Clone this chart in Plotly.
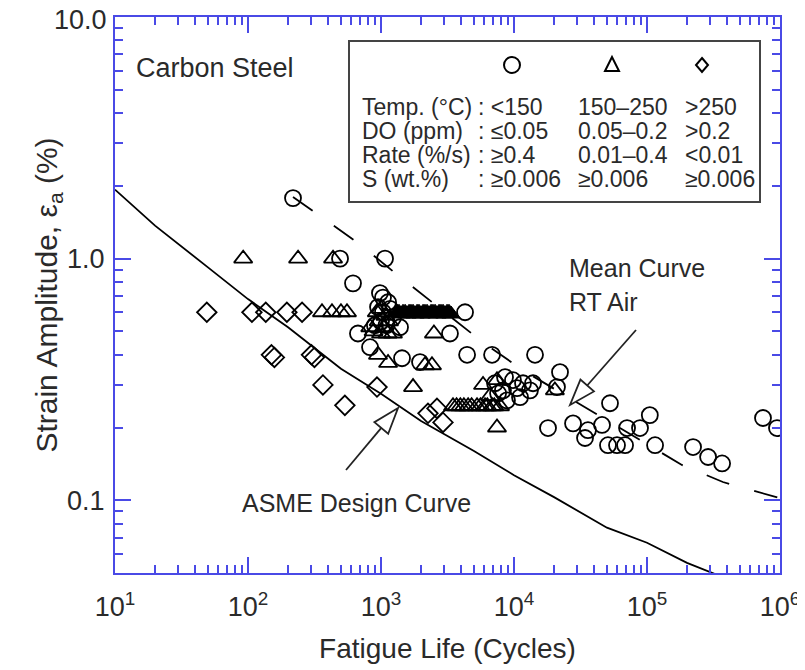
import math
import plotly.graph_objects as go

# ---------------- data ----------------
asme_N = [10, 20, 50, 100, 200, 500, 1000, 2000, 5000, 1e4, 2e4, 5e4, 1e5, 2e5, 5e5, 1e6]
asme_eps = [1.93, 1.37, 0.92, 0.68, 0.52, 0.35, 0.276, 0.213, 0.16, 0.127, 0.103, 0.077,
            0.0667, 0.0551, 0.045, 0.0417]

mean_N = [218, 660, 1390, 2460, 5850, 11700, 183000, 372000, 912000, 1000000]
mean_eps = [1.80, 1.17, 0.84, 0.655, 0.45, 0.345, 0.14, 0.119, 0.103, 0.102]

circ_N = [218, 492, 1072, 616, 982, 1035, 1130, 950, 1170, 1035, 1232, 1000, 900, 1100,
          4284, 671, 1390, 827, 3300, 1439, 1965, 4439, 6840, 14390,
          8560, 7200, 8260, 9820, 10540, 11690, 13900, 8850, 11100, 13190, 7590,
          22180, 21040, 52700, 18020, 27790, 35980, 34200, 45900, 50900, 59500, 68400,
          70800, 88600, 105000, 115000, 222000, 288000, 367000, 745000, 949000]
circ_eps = [1.78, 1.0, 1.0, 0.79, 0.72, 0.69, 0.66, 0.63, 0.62, 0.60, 0.57, 0.55, 0.53, 0.53,
            0.60, 0.49, 0.52, 0.43, 0.49, 0.387, 0.373, 0.40, 0.40, 0.40,
            0.323, 0.305, 0.285, 0.314, 0.291, 0.305, 0.305, 0.259, 0.267, 0.285, 0.277,
            0.339, 0.294, 0.252, 0.199, 0.208, 0.195, 0.181, 0.205, 0.169, 0.169, 0.169,
            0.199, 0.199, 0.225, 0.169, 0.166, 0.151, 0.142, 0.219, 0.199]

tri_N = [92, 238, 436, 360, 428, 500, 555, 930, 1000, 1080, 960, 1050, 1150, 880, 1000,
         1120, 1230, 830, 2500, 949, 1130, 2142, 2417, 1741,
         3478, 3700, 3950, 4200, 4520, 4800, 5272, 5600, 6055, 6300, 6840, 7100, 7850,
         5850, 6605, 7450, 7450, 20300]
tri_eps = [1.0, 1.0, 1.0, 0.6, 0.6, 0.6, 0.6, 0.6, 0.62, 0.58, 0.55, 0.52, 0.55, 0.50, 0.49,
           0.49, 0.49, 0.52, 0.49, 0.40, 0.37, 0.362, 0.362, 0.294,
           0.245, 0.245, 0.245, 0.245, 0.245, 0.245, 0.245, 0.245, 0.245, 0.245, 0.245, 0.245, 0.245,
           0.30, 0.27, 0.314, 0.20, 0.285]

# dense overlapping tests at 0.6 % (merge into a solid black band)
band_N = [1320, 1365, 1416, 1464, 1518, 1569, 1626, 1680, 1742, 1801, 1868, 1930, 2001, 2072,
          2141, 2220, 2296, 2380, 2459, 2550, 2636, 2733, 2825, 2928, 3027, 3138, 3244, 3362]
band_eps = [0.60, 0.60, 0.59, 0.60, 0.60, 0.59, 0.60, 0.60, 0.60, 0.59, 0.60, 0.60, 0.59, 0.60,
            0.60, 0.60, 0.59, 0.60, 0.60, 0.60, 0.59, 0.60, 0.60, 0.60, 0.59, 0.60, 0.60, 0.59]

dia_N = [49, 107, 136, 196, 255, 150, 158, 300, 316, 366, 535, 933, 2255, 2635, 2926]
dia_eps = [0.6, 0.6, 0.6, 0.6, 0.6, 0.40, 0.39, 0.40, 0.39, 0.30, 0.247, 0.294, 0.229, 0.24, 0.21]

x_tickvals = [1e1, 1e2, 1e3, 1e4, 1e5, 1e6]
x_ticktext = ["10<sup>1</sup>", "10<sup>2</sup>", "10<sup>3</sup>", "10<sup>4</sup>",
              "10<sup>5</sup>", "10<sup>6</sup>"]
y_tickvals = [0.1, 1.0, 10.0]
y_ticktext = ["0.1", "1.0", "10.0"]

legend_rows = [
    ("Temp. (°C)", ": <150", "150–250", ">250"),
    ("DO (ppm)", ": ≤0.05", "0.05–0.2", ">0.2"),
    ("Rate (%/s)", ": ≥0.4", "0.01–0.4", "<0.01"),
    ("S (wt.%)", ": ≥0.006", "≥0.006", "≥0.006"),
]

# ---------------- styling / layout ----------------
# screen positions of the plot area (page body has an 8 px margin)
OFF = 8
W, H = 805, 670
L, R, T, B = 115, 780, 17, 573
BLUE = "#4a4ae6"
TXT = "#2a2a2a"
FONT = "Liberation Sans, Arial, Helvetica, sans-serif"


def px(x):
    return (x - L) / (R - L)


def py(y):
    return (B - y) / (B - T)


fig = go.Figure()

fig.add_trace(go.Scatter(x=asme_N, y=asme_eps, mode="lines",
                         line=dict(color="black", width=1.8), hoverinfo="skip"))
fig.add_trace(go.Scatter(x=mean_N, y=mean_eps, mode="lines",
                         line=dict(color="black", width=1.8, dash="24px,26px"), hoverinfo="skip"))

mk_line = dict(color="black", width=1.8)
fig.add_trace(go.Scatter(x=band_N, y=band_eps, mode="markers",
                         marker=dict(symbol="triangle-up", size=16, color="black",
                                     line=dict(color="black", width=1))))
fig.add_trace(go.Scatter(x=tri_N, y=tri_eps, mode="markers",
                         marker=dict(symbol="triangle-up-open", size=16, color="black", line=mk_line)))
fig.add_trace(go.Scatter(x=dia_N, y=dia_eps, mode="markers",
                         marker=dict(symbol="diamond-open", size=15, color="black", line=mk_line)))
fig.add_trace(go.Scatter(x=circ_N, y=circ_eps, mode="markers",
                         marker=dict(symbol="circle-open", size=16, color="black", line=mk_line)))

shapes = []
# legend box
shapes.append(dict(type="rect", xref="paper", yref="paper",
                   x0=px(349), x1=px(760), y0=py(202), y1=py(41),
                   line=dict(color="#444444", width=2), fillcolor="white", layer="above"))
# legend symbols
shapes.append(dict(type="circle", xref="paper", yref="paper",
                   x0=px(504), x1=px(520), y0=py(73), y1=py(57),
                   line=dict(color="black", width=2), layer="above"))
tx, ty = 612, 65
shapes.append(dict(type="path", xref="paper", yref="paper",
                   path=f"M {px(tx)},{py(ty-8)} L {px(tx-7)},{py(ty+6)} L {px(tx+7)},{py(ty+6)} Z",
                   line=dict(color="black", width=2), layer="above"))
dx, dy = 702, 65
shapes.append(dict(type="path", xref="paper", yref="paper",
                   path=f"M {px(dx)},{py(dy-7)} L {px(dx+6)},{py(dy)} L {px(dx)},{py(dy+7)} L {px(dx-6)},{py(dy)} Z",
                   line=dict(color="black", width=2), layer="above"))


def hollow_arrow(tail, tip, head_len=26, half_w=9):
    (x0, y0), (x1, y1) = tail, tip
    d = math.hypot(x1 - x0, y1 - y0)
    ux, uy = (x1 - x0) / d, (y1 - y0) / d
    bx, by = x1 - head_len * ux, y1 - head_len * uy
    pxv, pyv = -uy, ux
    c1 = (bx + half_w * pxv, by + half_w * pyv)
    c2 = (bx - half_w * pxv, by - half_w * pyv)
    return [dict(type="line", xref="paper", yref="paper",
                 x0=px(x0), y0=py(y0), x1=px(bx), y1=py(by),
                 line=dict(color="#222222", width=1.8), layer="above"),
            dict(type="path", xref="paper", yref="paper",
                 path=f"M {px(c1[0])},{py(c1[1])} L {px(x1)},{py(y1)} L {px(c2[0])},{py(c2[1])} Z",
                 line=dict(color="#222222", width=1.8), fillcolor="white", layer="above")]


shapes += hollow_arrow((636, 330), (570, 405))
shapes += hollow_arrow((346, 470), (398, 408))

annotations = []


def txt(x, y, s, size, anchor="left"):
    annotations.append(dict(x=px(x), y=py(y), xref="paper", yref="paper", text=s,
                            showarrow=False, xanchor=anchor, yanchor="middle",
                            font=dict(family=FONT, size=size, color=TXT)))


txt(134, 68, "Carbon Steel", 27)
row_y = [107, 131, 155, 179]
for (lab, c1, c2, c3), yy in zip(legend_rows, row_y):
    txt(360, yy, lab, 23)
    txt(476, yy, c1, 23)
    txt(576, yy, c2, 23)
    txt(683, yy, c3, 23)
txt(567, 268, "Mean Curve", 25)
txt(567, 302, "RT Air", 25)
txt(356, 503, "ASME Design Curve", 25, anchor="center")
# top y tick label drawn slightly inside the page so it is not clipped
txt(109, 20, y_ticktext[-1], 27, anchor="right")
y_ticktext_axis = y_ticktext[:-1] + [""]

minor_x = [m * 10 ** k for k in range(1, 6) for m in range(2, 10)]
minor_y = [m * 10 ** k for k in (-2, -1, 0) for m in range(2, 10)]

axis_common = dict(type="log", showgrid=False, zeroline=False, showline=True,
                   linecolor=BLUE, linewidth=2, mirror="allticks",
                   ticks="inside", ticklen=16, tickwidth=2, tickcolor=BLUE,
                   ticklabeloverflow="allow",
                   tickfont=dict(family=FONT, size=27, color=TXT))

fig.update_layout(
    width=W, height=H,
    margin=dict(l=L - OFF, r=W - (R - OFF), t=T - OFF, b=H - (B - OFF), autoexpand=False),
    paper_bgcolor="white", plot_bgcolor="white",
    showlegend=False,
    font=dict(family=FONT, color=TXT),
    shapes=shapes, annotations=annotations,
    xaxis=dict(**axis_common, range=[1, 6], tickmode="array",
               tickvals=x_tickvals, ticktext=x_ticktext, ticklabelstandoff=9,
               minor=dict(tickmode="array", tickvals=minor_x, ticks="inside",
                          ticklen=8, tickwidth=1.5, tickcolor=BLUE, showgrid=False),
               title=dict(text="Fatigue Life (Cycles)", standoff=17,
                          font=dict(family=FONT, size=28, color=TXT))),
    yaxis=dict(**axis_common, range=[math.log10(0.05), 1], tickmode="array",
               tickvals=y_tickvals, ticktext=y_ticktext_axis, ticklabelstandoff=3,
               minor=dict(tickmode="array", tickvals=minor_y, ticks="inside",
                          ticklen=8, tickwidth=1.5, tickcolor=BLUE, showgrid=False),
               title=dict(text="Strain Amplitude, ε<sub>a</sub> (%)", standoff=1,
                          font=dict(family=FONT, size=30, color=TXT))),
)

fig.write_html("out.html")
